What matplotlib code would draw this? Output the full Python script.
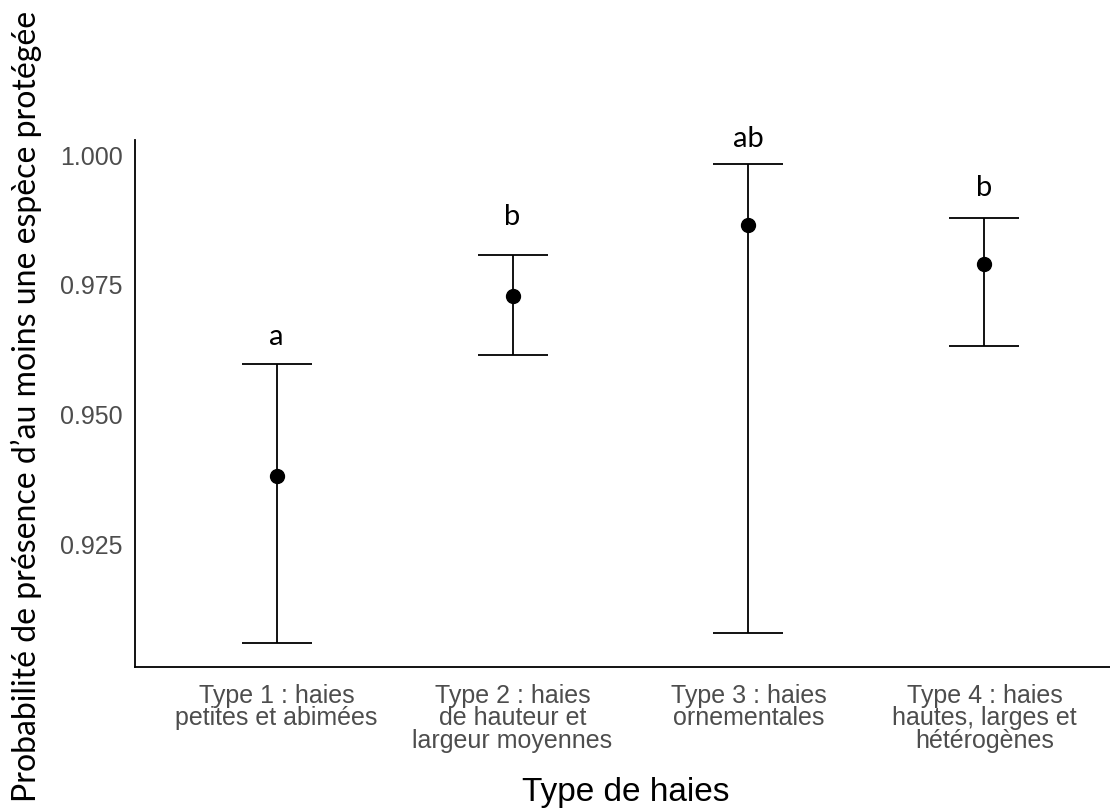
import matplotlib
matplotlib.use("Agg")
import matplotlib.pyplot as plt

# donnees
types = ["Type 1 : haies\npetites et abimées",
         "Type 2 : haies\nde hauteur et\nlargeur moyennes",
         "Type 3 : haies\nornementales",
         "Type 4 : haies\nhautes, larges et\nhétérogènes"]
prob = [0.9381, 0.9729, 0.9865, 0.9790]
ic_bas = [0.9060, 0.9615, 0.9079, 0.9633]
ic_haut = [0.9598, 0.9808, 0.9983, 0.9879]
lettres = ["a", "b", "ab", "b"]
lettres_y = [0.9635, 0.9865, 1.0015, 0.9921]
yticks = [0.925, 0.950, 0.975, 1.000]

fig = plt.figure(figsize=(11.1, 8.08), dpi=100)
ax = fig.add_axes([135/1110, (808-667)/808, 991/1110, (667-140)/808])

x = list(range(1, len(types)+1))
err_bas = [p - b for p, b in zip(prob, ic_bas)]
err_haut = [h - p for p, h in zip(prob, ic_haut)]
ax.errorbar(x, prob, yerr=[err_bas, err_haut], fmt="o", color="black",
            ms=10, elinewidth=1.3, capsize=25, capthick=1.3)

# lettres des groupes (posees a la main comme sur la figure)
for xi, yl, l in zip(x, lettres_y, lettres):
    ax.text(xi, yl, l, ha="center", va="baseline", fontsize=21, family="Lato",
            clip_on=False)

ax.set_xlim(0.4, 4.6)
ax.set_ylim(0.9014, 1.0029)
ax.set_xticks(x)
ax.set_xticklabels(types, fontsize=18, color="#4d4d4d", family="Liberation Sans",
                   linespacing=0.92)
ax.set_yticks(yticks)
ax.set_yticklabels(["%.3f" % v for v in yticks], fontsize=18, color="#4d4d4d",
                   family="Liberation Sans")
ax.tick_params(axis="y", length=0, pad=9)
ax.tick_params(axis="x", length=0, pad=12)
ax.spines["top"].set_visible(False)
ax.spines["right"].set_visible(False)
ax.spines["left"].set_linewidth(1.3)
ax.spines["bottom"].set_linewidth(1.3)

fig.text(626/1110, 1 - 792/808, "Type de haies", ha="center", va="center",
         fontsize=24, family="Liberation Sans")
fig.text(0.0234, 0.497, "Probabilité de présence d’au moins une espèce protégée",
         rotation=90, ha="center", va="center", fontsize=23, family="Lato")

fig.savefig("out.png", dpi=100)
